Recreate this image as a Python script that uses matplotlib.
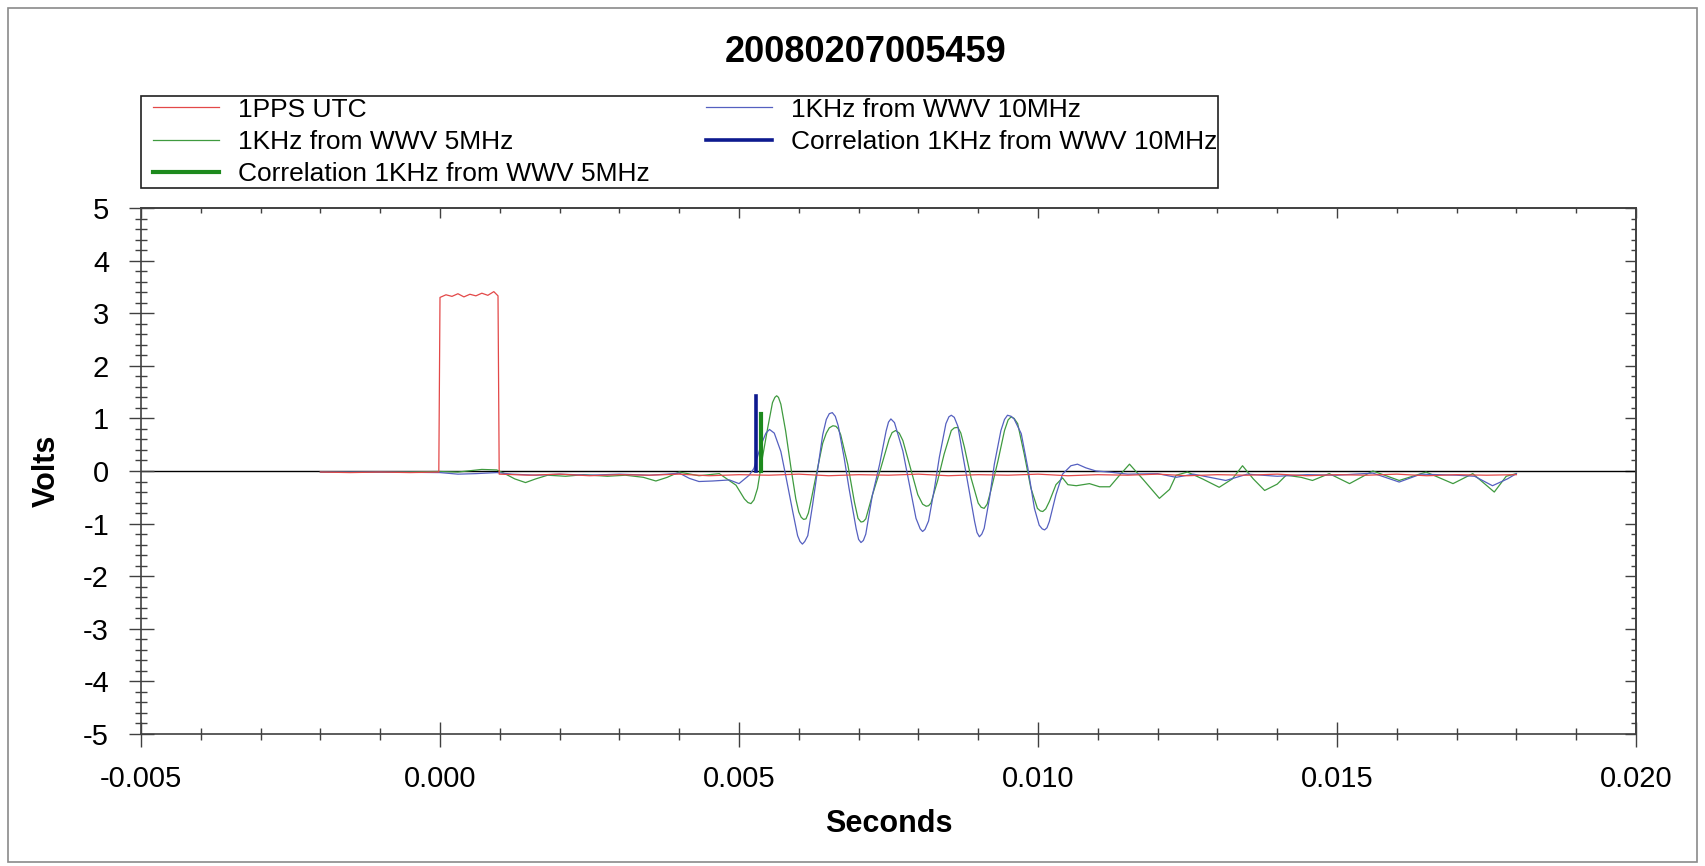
import matplotlib
matplotlib.use('Agg')
import matplotlib.pyplot as plt
from matplotlib.patches import Rectangle
from matplotlib.lines import Line2D
from matplotlib.legend_handler import HandlerLine2D
from matplotlib.ticker import MultipleLocator, FuncFormatter
import numpy as np

plt.rcParams['font.family'] = ['Liberation Sans', 'DejaVu Sans']

TITLE = '20080207005459'

# time in ms, volts
pps_t = [-2.0, -1.5, -1.0, -0.5, -0.02, 0.0, 0.1, 0.2, 0.3, 0.4, 0.5, 0.6, 0.7, 0.8, 0.9, 0.97,
         0.99, 1.5, 2.0, 2.5, 3.0, 3.5, 4.0, 4.5, 5.0, 5.5, 6.0, 6.5, 7.0, 7.5, 8.0, 8.5, 9.0,
         9.5, 10.0, 10.5, 11.0, 11.5, 12.0, 12.5, 13.0, 13.5, 14.0, 14.5, 15.0, 15.5, 16.0,
         16.5, 17.0, 17.5, 18.0]
pps_v = [-0.02, -0.03, -0.02, -0.03, -0.02, 3.30, 3.35, 3.32, 3.37, 3.31, 3.36, 3.33, 3.38,
         3.34, 3.41, 3.33, -0.06, -0.08, -0.06, -0.09, -0.07, -0.08, -0.06, -0.09, -0.07,
         -0.08, -0.06, -0.09, -0.07, -0.08, -0.06, -0.09, -0.07, -0.08, -0.06, -0.09, -0.07,
         -0.08, -0.06, -0.09, -0.07, -0.08, -0.06, -0.09, -0.07, -0.08, -0.06, -0.09, -0.07,
         -0.08, -0.07]

wwv5_t = [-2.0, -1.0, 0.0, 0.3, 0.7, 0.95, 1.1, 1.25, 1.43, 1.6, 1.8, 2.1, 2.4, 2.8, 3.1,
          3.4, 3.61, 3.8, 4.0, 4.33, 4.67, 4.95, 5.09, 5.15, 5.2, 5.25, 5.31, 5.39, 5.48, 5.56,
          5.60, 5.63, 5.66, 5.70, 5.78, 5.87, 5.95, 6.0, 6.04, 6.08, 6.12, 6.16, 6.2, 6.29,
          6.4, 6.46, 6.51, 6.57, 6.62, 6.66, 6.7, 6.82, 6.93, 6.99, 7.04, 7.08, 7.12, 7.23,
          7.37, 7.51, 7.56, 7.62, 7.68, 7.74, 7.85, 7.99, 8.07, 8.13, 8.17, 8.21, 8.32, 8.43,
          8.55, 8.6, 8.66, 8.71, 8.77, 8.88, 9.0, 9.05, 9.1, 9.15, 9.21, 9.33, 9.44, 9.5,
          9.55, 9.6, 9.66, 9.77, 9.88, 9.99, 10.04, 10.08, 10.13, 10.19, 10.3, 10.41, 10.5,
          10.64, 10.86, 11.03, 11.2, 11.35, 11.53, 11.75, 12.03, 12.2, 12.31, 12.5, 12.75,
          13.03, 13.25, 13.42, 13.6, 13.79, 14.0, 14.15, 14.4, 14.59, 14.87, 15.21, 15.6,
          16.04, 16.49, 16.94, 17.27, 17.63, 17.83, 18.0]
wwv5_v = [-0.02, -0.02, -0.01, -0.02, 0.03, 0.02, -0.06, -0.15, -0.22, -0.15, -0.08, -0.1,
          -0.07, -0.1, -0.08, -0.12, -0.19, -0.12, -0.02, -0.09, -0.05, -0.27, -0.53, -0.6,
          -0.62, -0.55, -0.33, 0.24, 0.82, 1.30, 1.40, 1.43, 1.40, 1.27, 0.76, 0.05, -0.53,
          -0.78, -0.88, -0.92, -0.91, -0.8, -0.59, -0.08, 0.53, 0.72, 0.82, 0.86, 0.85, 0.8,
          0.69, 0.12, -0.59, -0.9, -0.97, -0.96, -0.91, -0.46, 0.05, 0.6, 0.73, 0.77, 0.72,
          0.58, 0.13, -0.45, -0.63, -0.67, -0.66, -0.61, -0.19, 0.32, 0.77, 0.82, 0.83, 0.72,
          0.45, -0.13, -0.61, -0.69, -0.71, -0.63, -0.38, 0.19, 0.77, 0.97, 1.03, 1.0, 0.9,
          0.32, -0.32, -0.71, -0.76, -0.77, -0.72, -0.58, -0.26, -0.13, -0.26, -0.28, -0.24,
          -0.3, -0.3, -0.1, 0.13, -0.15, -0.52, -0.35, -0.08, -0.02, -0.15, -0.31, -0.15, 0.1,
          -0.15, -0.37, -0.25, -0.08, -0.12, -0.18, -0.05, -0.24, 0.0, -0.18, -0.02, -0.24,
          -0.05, -0.40, -0.1, -0.05]

wwv10_t = [-2.0, -1.0, 0.0, 0.3, 0.6, 0.95, 1.2, 1.6, 2.0, 2.5, 3.0, 3.5, 3.8, 4.0, 4.17,
           4.33, 4.56, 4.84, 5.0, 5.17, 5.25, 5.37, 5.45, 5.51, 5.59, 5.70, 5.78, 5.9, 5.98,
           6.02, 6.06, 6.10, 6.15, 6.23, 6.31, 6.4, 6.46, 6.51, 6.56, 6.61, 6.66, 6.76, 6.84,
           6.96, 7.0, 7.04, 7.08, 7.12, 7.23, 7.35, 7.46, 7.50, 7.54, 7.6, 7.74, 7.85, 7.96,
           8.03, 8.07, 8.11, 8.17, 8.27, 8.35, 8.46, 8.51, 8.55, 8.6, 8.66, 8.74, 8.85, 8.94,
           8.98, 9.02, 9.06, 9.1, 9.19, 9.27, 9.38, 9.44, 9.49, 9.55, 9.6, 9.72, 9.83, 9.94,
           10.02, 10.07, 10.11, 10.15, 10.19, 10.3, 10.41, 10.55, 10.66, 10.8, 10.97, 11.19,
           11.5, 12.0, 12.31, 12.6, 13.14, 13.5, 14.0, 14.5, 15.0, 15.6, 16.04, 16.4, 17.0,
           17.3, 17.6, 17.85, 18.0]
wwv10_v = [-0.02, -0.02, -0.03, -0.06, -0.05, -0.03, -0.06, -0.08, -0.06, -0.08, -0.06,
           -0.08, -0.06, -0.04, -0.14, -0.2, -0.19, -0.17, -0.24, -0.08, 0.05, 0.5, 0.72,
           0.79, 0.72, 0.37, -0.08, -0.78, -1.23, -1.34, -1.39, -1.34, -1.23, -0.65, -0.01,
           0.69, 0.98, 1.09, 1.11, 1.04, 0.86, 0.24, -0.33, -1.1, -1.3, -1.36, -1.32, -1.2,
           -0.46, 0.12, 0.76, 0.93, 0.99, 0.92, 0.38, -0.26, -0.9, -1.1, -1.15, -1.11, -0.95,
           -0.32, 0.26, 0.9, 1.03, 1.06, 1.02, 0.85, 0.32, -0.38, -0.96, -1.17, -1.25, -1.2,
           -1.09, -0.51, 0.13, 0.77, 0.98, 1.06, 1.04, 0.99, 0.71, 0.06, -0.71, -1.03, -1.1,
           -1.12, -1.08, -0.96, -0.45, -0.06, 0.1, 0.13, 0.06, 0.0, -0.02, -0.06, -0.05, -0.12,
           -0.06, -0.18, -0.06, -0.1, -0.07, -0.08, -0.04, -0.21, -0.06, -0.08, -0.1, -0.28,
           -0.15, -0.05]

corr5_t = [5.37, 5.37]
corr5_v = [0.0, 1.08]
corr10_t = [5.29, 5.29]
corr10_v = [0.0, 1.43]

labels = ['1PPS UTC', '1KHz from WWV 5MHz', 'Correlation 1KHz from WWV 5MHz',
          '1KHz from WWV 10MHz', 'Correlation 1KHz from WWV 10MHz']


def sec(ms):
    return np.array(ms) / 1000.0


W, H = 1705, 866
fig = plt.figure(figsize=(W / 100, H / 100), dpi=100)
ax = fig.add_axes([141 / W, 1 - 734 / H, (1636 - 141) / W, (734 - 208) / H])

ax.axhline(0, color='black', lw=1.0, zorder=1)
ax.plot(sec(pps_t), pps_v, color='#e34848', lw=0.9, label=labels[0], zorder=4)
ax.plot(sec(wwv5_t), wwv5_v, color='#3f9a3f', lw=0.9, label=labels[1], zorder=2)
ax.plot(sec(corr5_t), corr5_v, color='#1d8a1d', lw=3.0, label=labels[2], zorder=5)
ax.plot(sec(wwv10_t), wwv10_v, color='#5560c0', lw=0.9, label=labels[3], zorder=3)
ax.plot(sec(corr10_t), corr10_v, color='#0d1a8f', lw=2.6, label=labels[4], zorder=6)

ax.set_xlim(-0.005, 0.020)
ax.set_ylim(-5, 5)
ax.xaxis.set_major_locator(MultipleLocator(0.005))
ax.xaxis.set_minor_locator(MultipleLocator(0.001))
ax.yaxis.set_major_locator(MultipleLocator(1))
ax.yaxis.set_minor_locator(MultipleLocator(0.2))
ax.xaxis.set_major_formatter(FuncFormatter(lambda v, p: '0.000' if abs(v) < 1e-9 else f'{v:.3f}'))
ax.yaxis.set_major_formatter(FuncFormatter(lambda v, p: f'{v:.0f}'))

ax.tick_params(axis='both', which='major', direction='inout', length=18, width=1.0,
               color='#404040', labelsize=21)
ax.tick_params(axis='both', which='minor', direction='inout', length=8.5, width=1.0,
               color='#404040')
ax.tick_params(axis='x', which='major', pad=13)
ax.tick_params(axis='y', which='major', pad=14)

# ticks on the right and top point inward only
sy = ax.secondary_yaxis('right')
sy.yaxis.set_major_locator(MultipleLocator(1))
sy.yaxis.set_minor_locator(MultipleLocator(0.2))
sy.tick_params(which='major', direction='in', length=8, width=1.0, color='#404040',
               labelright=False)
sy.tick_params(which='minor', direction='in', length=3.6, width=1.0, color='#404040')
sx = ax.secondary_xaxis('top')
sx.xaxis.set_major_locator(MultipleLocator(0.005))
sx.xaxis.set_minor_locator(MultipleLocator(0.001))
sx.tick_params(which='major', direction='in', length=7, width=1.0, color='#404040',
               labeltop=False)
sx.tick_params(which='minor', direction='in', length=3.6, width=1.0, color='#404040')
for s in list(ax.spines.values()) + [sy.spines['right'], sx.spines['top']]:
    s.set_color('#404040')
    s.set_linewidth(1.2)

ax.set_xlabel('Seconds', fontsize=22, fontweight='bold', va='center')
ax.xaxis.set_label_coords(0.5, -0.171)
ax.set_ylabel('Volts', fontsize=22, fontweight='bold', va='center')
ax.yaxis.set_label_coords(-0.063, 0.5)

ax.set_title(TITLE, fontsize=26, fontweight='bold', x=(866 - 141) / 1495,
             y=(734 - 53) / 526, va='center', pad=0)

leg = ax.legend(loc='upper left', bbox_to_anchor=(141 / W, 1 - 96 / H),
                bbox_transform=fig.transFigure, borderaxespad=0, ncol=2, fontsize=19,
                handlelength=2.9, handletextpad=0.7, columnspacing=1.75,
                labelspacing=0.31, borderpad=0.06, fancybox=False, framealpha=1,
                handler_map={Line2D: HandlerLine2D(xpad=0.4)})
leg.get_frame().set_edgecolor('#202020')
leg.get_frame().set_linewidth(1.2)

fig.patches.append(Rectangle((8 / W, 1 - 862 / H), (1697 - 8) / W, (862 - 8) / H,
                             transform=fig.transFigure, fill=False,
                             edgecolor='#8a8a8a', lw=1.2))

fig.savefig('out.png', dpi=100)
